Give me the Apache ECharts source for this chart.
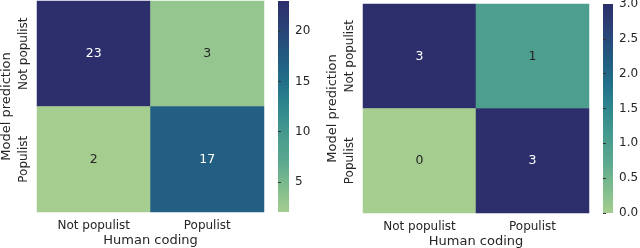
<!DOCTYPE html>
<html><head><meta charset="utf-8">
<script src="https://cdn.jsdelivr.net/npm/echarts@6/dist/echarts.min.js"></script>
<style>html,body{margin:0;padding:0;background:#fff}#c{width:640px;height:248px}</style>
</head><body><div id="c"></div>
<script>
const xCategories = ['Not populist', 'Populist'];
const yCategories = ['Not populist', 'Populist'];
// rows = model prediction (top: Not populist), cols = human coding
const leftValues = [[23, 3], [2, 17]];
const rightValues = [[3, 1], [0, 3]];
const leftTicks = [5, 10, 15, 20];
const rightTicks = [0, 0.5, 1, 1.5, 2, 2.5, 3];
const xTitle = 'Human coding';
const yTitle = 'Model prediction';

const crest = ['#a5cd90', '#7dbb8d', '#5aa78f', '#46998f', '#2f878e', '#226e89', '#22597f', '#2a4276', '#2c2f6c'];
const FONT = 'DejaVu Sans';
const TXT = '#262626';

function cells(vals, min, max) {
  const out = [];
  vals.forEach((row, r) => row.forEach((v, c) => {
    const t = (v - min) / (max - min);
    out.push({ value: [c, r, v], label: { color: t > 0.55 ? '#ffffff' : TXT } });
  }));
  return out;
}
const lmin = 2, lmax = 23, rmin = 0, rmax = 3;

const cbGradient = {
  type: 'linear', x: 0, y: 1, x2: 0, y2: 0,
  colorStops: crest.map((c, i) => ({ offset: i / (crest.length - 1), color: c }))
};

const gBase = { containLabel: false, outerBoundsMode: 'none' };
const grids = [
  Object.assign({ left: 37, top: 1, width: 227, height: 211 }, gBase),
  Object.assign({ left: 363, top: 4, width: 226, height: 209 }, gBase),
  Object.assign({ left: 278, top: 1, width: 11, height: 211, show: true, backgroundColor: cbGradient, borderWidth: 0 }, gBase),
  Object.assign({ left: 603, top: 4, width: 10, height: 209, show: true, backgroundColor: cbGradient, borderWidth: 0 }, gBase)
];

function catX(gi) {
  return { type: 'category', gridIndex: gi, data: xCategories,
    axisLine: { show: false }, axisTick: { show: false }, splitArea: { show: false },
    axisLabel: { fontFamily: FONT, fontSize: 12, color: TXT, margin: 8 },
    name: xTitle, nameLocation: 'middle', nameGap: 22, nameMoveOverlap: false,
    nameTextStyle: { fontFamily: FONT, fontSize: 13, color: TXT } };
}
function catY(gi) {
  return { type: 'category', gridIndex: gi, data: yCategories, inverse: true,
    axisLine: { show: false }, axisTick: { show: false },
    axisLabel: { fontFamily: FONT, fontSize: 12, color: TXT, rotate: 90, margin: 7 },
    name: yTitle, nameLocation: 'middle', nameGap: 24, nameRotate: 90, nameMoveOverlap: false,
    nameTextStyle: { fontFamily: FONT, fontSize: 13, color: TXT } };
}
function cbX(gi) {
  return { type: 'value', gridIndex: gi, show: false, min: 0, max: 1 };
}
function cbY(gi, min, max, ticks, fmt) {
  return { type: 'value', gridIndex: gi, position: 'right', min: min, max: max,
    splitLine: { show: false }, axisLine: { show: false },
    axisTick: { show: true, length: 3, lineStyle: { color: '#333' }, customValues: ticks },
    axisLabel: { fontFamily: FONT, fontSize: 12, color: TXT, margin: 6, customValues: ticks, formatter: fmt } };
}

const option = {
  animation: false,
  grid: grids,
  xAxis: [catX(0), catX(1), cbX(2), cbX(3)],
  yAxis: [catY(0), catY(1),
    cbY(2, lmin, lmax, leftTicks, v => String(v)),
    cbY(3, rmin, rmax, rightTicks, v => v.toFixed(1))],
  visualMap: [
    { type: 'continuous', seriesIndex: 0, min: lmin, max: lmax, show: false, inRange: { color: crest } },
    { type: 'continuous', seriesIndex: 1, min: rmin, max: rmax, show: false, inRange: { color: crest } }
  ],
  series: [
    { type: 'heatmap', xAxisIndex: 0, yAxisIndex: 0, data: cells(leftValues, lmin, lmax),
      label: { show: true, fontFamily: FONT, fontSize: 12.5, formatter: p => String(p.value[2]) },
      itemStyle: { borderWidth: 0 }, emphasis: { disabled: true } },
    { type: 'heatmap', xAxisIndex: 1, yAxisIndex: 1, data: cells(rightValues, rmin, rmax),
      label: { show: true, fontFamily: FONT, fontSize: 12.5, formatter: p => String(p.value[2]) },
      itemStyle: { borderWidth: 0 }, emphasis: { disabled: true } }
  ]
};
const chart = echarts.init(document.getElementById('c'), null, { renderer: 'canvas' });
chart.setOption(option);
</script></body></html>
